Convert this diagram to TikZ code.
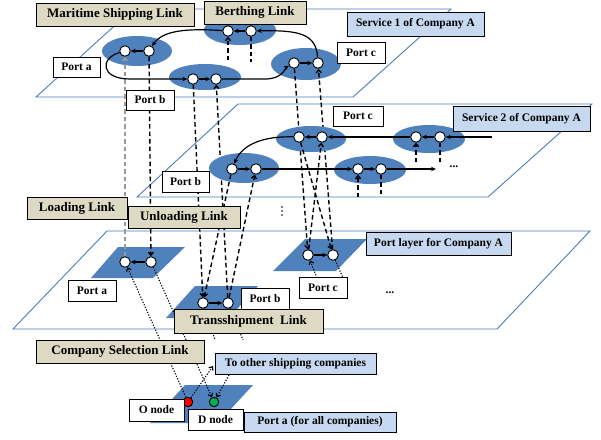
\documentclass[tikz,border=0pt]{standalone}
\usepackage{fontspec}
\setmainfont{Liberation Serif}
\usetikzlibrary{arrows.meta,shadows}
\pgfdeclarelayer{bg}\pgfdeclarelayer{mid}\pgfdeclarelayer{fg}
\pgfsetlayers{bg,mid,main,fg}
\definecolor{pblue}{HTML}{4F81BD}
\definecolor{lineblue}{HTML}{4A7EBB}
\definecolor{beige}{HTML}{DDD9C3}
\definecolor{lblue}{HTML}{C6D9F1}
\definecolor{dgreen}{HTML}{00B050}
\tikzset{
 plane/.style={draw=lineblue, line width=0.9pt},
 pt/.style={circle, draw=black, fill=white, line width=0.9pt, minimum size=10.5pt, inner sep=0pt},
 route/.style={line width=1.2pt, -{Stealth[length=5pt,width=4.5pt]}},
 dsh/.style={line width=1.4pt, dash pattern=on 4.5pt off 3pt},
 dtt/.style={line width=1.1pt, dash pattern=on 1.2pt off 1.6pt},
 barb/.style={-{Straight Barb[length=3pt,width=5pt]}},
 lab/.style={draw=black, line width=0.6pt, inner sep=0pt, font=\bfseries\fontsize{11.5}{13}\selectfont,
   drop shadow={shadow xshift=1.2pt, shadow yshift=-1.2pt, fill=black!60, opacity=0.8}},
 beigelab/.style={lab, fill=beige, font=\bfseries\fontsize{13}{15}\selectfont},
 bluelab/.style={lab, fill=lblue},
 whitelab/.style={lab, fill=white},
}
\begin{document}
\begin{tikzpicture}[x=1pt,y=-1pt]
\useasboundingbox (0,0) rectangle (601,439);
% ---------- point nodes ----------
\node[pt] (a1) at (125,51) {};
\node[pt] (a2) at (149,51) {};
\node[pt] (b1) at (228,31) {};
\node[pt] (b2) at (251,31) {};
\node[pt] (pb1) at (193,79) {};
\node[pt] (pb2) at (216,79) {};
\node[pt] (pc1) at (294,63) {};
\node[pt] (pc2) at (318,63) {};
\node[pt] (qb1) at (232,169) {};
\node[pt] (qb2) at (256,169) {};
\node[pt] (qc1) at (299,137) {};
\node[pt] (qc2) at (322,137) {};
\node[pt] (qd1) at (358,169) {};
\node[pt] (qd2) at (381,169) {};
\node[pt] (e1) at (416,137) {};
\node[pt] (e2) at (440,137) {};
\node[pt] (ta1) at (125,262) {};
\node[pt] (ta2) at (151,262) {};
\node[pt] (tb1) at (203,303) {};
\node[pt] (tb2) at (228,303) {};
\node[pt] (tc1) at (308,255) {};
\node[pt] (tc2) at (333,255) {};
\node[pt, fill=red, minimum size=9.5pt] (on) at (188,402) {};
\node[pt, fill=dgreen, minimum size=9.5pt] (dn) at (214,402) {};
% ---------- background ----------
\begin{pgfonlayer}{bg}
\fill[white] (0,0) rectangle (601,439);
\draw[plane] (36,97) -- (353,97) -- (451,9) -- (133,9) -- cycle;
\draw[plane] (137,197) -- (488,197) -- (592,104) -- (238,104) -- cycle;
\draw[plane] (13,329) -- (497,329) -- (590,231) -- (107,231) -- cycle;
\fill[pblue] (91,278) -- (153,278) -- (185,247) -- (118,247) -- cycle;
\fill[pblue] (166,318) -- (229,318) -- (258,286) -- (195,286) -- cycle;
\fill[pblue] (273,271) -- (336,271) -- (367,239) -- (305,239) -- cycle;
\fill[pblue] (150,423) -- (218,423) -- (253,385) -- (185,385) -- cycle;
\fill[pblue] (137,51) ellipse [x radius=35pt, y radius=15pt];
\fill[pblue] (240,30) ellipse [x radius=36pt, y radius=15pt];
\fill[pblue] (205,77) ellipse [x radius=36pt, y radius=13pt];
\fill[pblue] (306,64) ellipse [x radius=35pt, y radius=16pt];
\draw[dsh, draw=gray!80, barb] (ta1) -- (a1);
\draw[dsh, barb] (a2) -- (ta2);
\draw[dsh, barb] (pb1) -- (tb1);
\draw[dsh, barb] (tb2) -- (pb2);
\draw[dsh, barb] (pc1) -- (tc1);
\draw[dsh, barb] (tc2) -- (pc2);
\coordinate (b1s) at (228,60);
\coordinate (b2s) at (251,62);
\draw[dsh, barb] (b1s) -- (b1);
\draw[dsh] (b2) -- (b2s);
\end{pgfonlayer}
\begin{pgfonlayer}{mid}
\fill[pblue] (244,168) ellipse [x radius=35pt, y radius=15pt];
\fill[pblue] (311,139) ellipse [x radius=35pt, y radius=13pt];
\fill[pblue] (370,170) ellipse [x radius=36pt, y radius=14pt];
\fill[pblue] (429,139) ellipse [x radius=36pt, y radius=14pt];
\end{pgfonlayer}
% ---------- routes, layer 1 ----------
\draw[route] (b2) -- (b1);
\draw[route] (pc2) .. controls (316,34) and (300,30) .. (b2);
\draw[route] (b1) .. controls (185,28) and (162,31) .. (a2);
\draw[route] (a2) -- (a1);
\draw[route] (a1) .. controls (100,58) and (100,79) .. (130,79) -- (pb1);
\draw[route] (pb1) -- (pb2);
\draw[route] (pb2) -- (265,79) .. controls (283,79) and (285,68) .. (pc1);
\draw[route] (pc1) -- (pc2);
% ---------- routes, layer 2 ----------
\coordinate (s2in) at (492,137);
\coordinate (s2out) at (436,169);
\draw[route] (s2in) -- (e2);
\draw[route] (e2) -- (e1);
\draw[route] (e1) -- (qc2);
\draw[route] (qc2) -- (qc1);
\draw[route] (qc1) .. controls (262,136) and (242,145) .. (qb1);
\draw[route] (qb1) -- (qb2);
\draw[route] (qb2) -- (qd1);
\draw[route] (qd1) -- (qd2);
\draw[route] (qd2) -- (s2out);
% ---------- port layer ----------
\draw[route] (ta2) -- (ta1);
\draw[route] (tb1) -- (tb2);
\draw[route] (tc1) -- (tc2);
% ---------- dashed links from layer 2 ----------
\draw[dsh, barb] (qb1) -- (tb1);
\draw[dsh, barb] (tb2) -- (qb2);
\draw[dsh, barb] (qc1) -- (tc2);
\draw[dsh, barb] (tc1) -- (qc2);
\coordinate (qd1s) at (358,197);
\coordinate (qd2s) at (381,197);
\coordinate (e1s) at (416,162);
\coordinate (e2s) at (440,165);
\draw[dsh, barb] (qd1s) -- (qd1);
\draw[dsh] (qd2) -- (qd2s);
\draw[dsh, barb] (e1s) -- (e1);
\draw[dsh] (e2) -- (e2s);
% ---------- dotted links ----------
\coordinate (toarr) at (213,366);
\coordinate (tofrom) at (229,375);
\coordinate (tbs1) at (215,340);
\coordinate (tbs2) at (243,340);
\coordinate (tcs1) at (317,278);
\coordinate (tcs2) at (343,278);
\draw[dtt, barb] (on) -- (ta1);
\draw[dtt, barb] (ta2) -- (dn);
\draw[dtt, barb] (on) -- (toarr);
\draw[dtt, barb] (tofrom) -- (dn);
\draw[dtt] (tb1) -- (tbs1);
\draw[dtt] (tb2) -- (tbs2);
\draw[dtt, barb] (tcs1) -- (tc1);
\draw[dtt] (tc2) -- (tcs2);
% ---------- dots ----------
\node[font=\bfseries\fontsize{11.5}{13}\selectfont, inner sep=0pt] (dots2) at (454,167) {...};
\node[font=\bfseries\fontsize{11.5}{13}\selectfont, inner sep=0pt] (dots3) at (390,293) {...};
\fill (282,207) circle (0.9pt) (282,211) circle (0.9pt) (282,215) circle (0.9pt);
% ---------- labels ----------
\begin{pgfonlayer}{fg}
\node[beigelab, minimum width=158pt, minimum height=23pt] (lms) at (115,14.5) {Maritime Shipping Link};
\node[beigelab, minimum width=102pt, minimum height=23pt] (lbe) at (255,12.5) {Berthing Link};
\node[bluelab, minimum width=137pt, minimum height=24pt] (ls1) at (415.5,24) {Service 1 of Company A};
\node[whitelab, minimum width=47pt, minimum height=20pt] (lpa1) at (76.5,67) {Port a};
\node[whitelab, minimum width=48pt, minimum height=20pt] (lpb1) at (150,100) {Port b};
\node[whitelab, minimum width=48pt, minimum height=21pt] (lpc1) at (361,52.5) {Port c};
\node[whitelab, minimum width=50pt, minimum height=20pt] (lpc2) at (358,116) {Port c};
\node[bluelab, minimum width=137pt, minimum height=25pt] (ls2) at (521.5,118.5) {Service 2 of Company A};
\node[whitelab, minimum width=47pt, minimum height=21pt] (lpb2) at (185.5,181.5) {Port b};
\node[beigelab, minimum width=100pt, minimum height=22pt] (lload) at (77,208) {Loading Link};
\node[beigelab, minimum width=112pt, minimum height=22pt] (lunl) at (184,217) {Unloading Link};
\node[whitelab, minimum width=48pt, minimum height=21pt] (lpa3) at (92,290.5) {Port a};
\node[whitelab, minimum width=48pt, minimum height=22pt] (lpb3) at (265,299) {Port b};
\node[beigelab, minimum width=149pt, minimum height=24pt] (ltr) at (248.5,321) {Transshipment~~Link};
\node[whitelab, minimum width=48pt, minimum height=21pt] (lpc3) at (323,287.5) {Port c};
\node[bluelab, minimum width=145pt, minimum height=23pt] (lpl) at (438.5,243.5) {Port layer for Company A};
\node[beigelab, minimum width=168pt, minimum height=23pt] (lcs) at (120,351.5) {Company Selection Link};
\node[bluelab, minimum width=161pt, minimum height=21pt] (lto) at (295.5,363.5) {To other shipping companies};
\node[whitelab, minimum width=55pt, minimum height=22pt] (lon) at (156.5,410) {O node};
\node[whitelab, minimum width=55pt, minimum height=21pt] (ldn) at (215.5,419.5) {D node};
\node[bluelab, minimum width=152pt, minimum height=20pt] (lpall) at (320,422) {Port a (for all companies)};
\end{pgfonlayer}
\end{tikzpicture}
\end{document}
